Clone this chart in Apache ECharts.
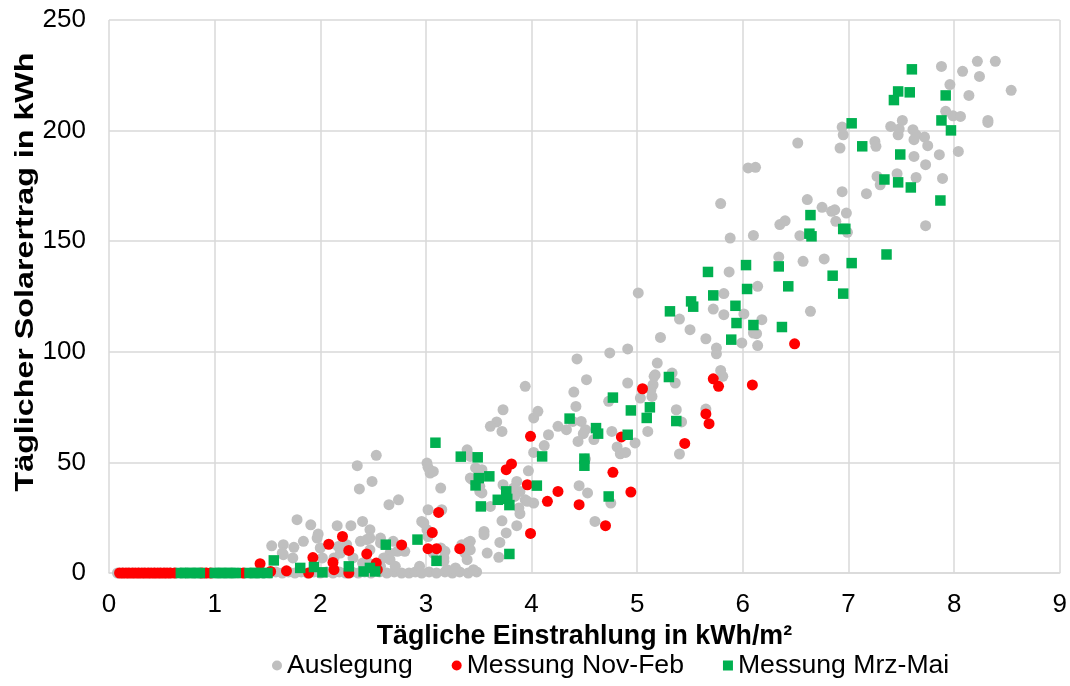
<!DOCTYPE html>
<html><head><meta charset="utf-8">
<script src="https://cdn.jsdelivr.net/npm/echarts@6/dist/echarts.min.js"></script>
<style>html,body{margin:0;padding:0;background:#fff}#c{width:1070px;height:686px}</style>
</head><body><div id="c"></div>
<script>
const xTicks = [0,1,2,3,4,5,6,7,8,9];
const yTicks = [0,50,100,150,200,250];
const seriesNames = ['Auslegung','Messung Nov-Feb','Messung Mrz-Mai'];
const xTitle = 'Tägliche Einstrahlung in kWh/m²';
const yTitle = 'Täglicher Solarertrag in kWh';

const auslegung = [
[0.08,0],[0.13,0],[0.18,0],[0.23,0],[0.28,0],[0.33,0],[0.38,0],[0.43,0],[0.48,0],[0.53,0],[0.58,0],[0.63,0],[0.68,0],[0.74,0],[0.8,0],[0.86,0],[0.92,0],[0.98,0],[1.04,0],[1.1,0],[1.16,0],[1.22,0],[1.28,0],[1.34,0],[1.4,0],[1.46,0],[1.52,0],[1.58,0.5],[1.64,0],[1.7,0.5],[1.76,0],[1.82,0.5],[1.88,0],[1.94,0.5],[2.0,0],[2.06,0.5],[2.12,0],[2.18,0.5],[2.24,0],[2.3,0.5],[2.36,0],[2.42,0.5],[2.48,0],[2.56,0.5],[2.63,0],[2.7,0.5],[2.77,0],[2.84,0],[2.9,0.5],[2.96,0],[3.03,0.5],[3.1,0],[3.18,0.5],[3.25,0],[3.32,0.5],[3.4,0],[3.48,0.5],
[1.54,12.3],[1.65,12.8],[1.75,11.6],[1.84,14.3],[1.65,8.3],[1.74,6.8],[1.64,9.0],[1.78,24.1],[1.91,21.8],[1.98,17.6],[1.97,15.8],[2.0,11.3],[2.02,6.8],[2.13,6.8],[2.16,21.4],[2.29,21.4],[2.40,23.3],[2.47,19.6],[2.47,15.8],[2.17,12.0],[2.25,12.8],[2.38,14.3],[2.44,15.1],[2.47,10.5],[2.57,13.6],[2.69,14.3],[2.73,9.8],[2.80,9.8],[2.66,9.0],[2.19,9.0],[2.31,6.8],[2.44,5.2],[2.57,3.0],[2.60,6.8],[2.66,6.0],[2.40,4.5],[2.71,3.0],[2.94,3.0],[2.35,48.5],[2.53,53.2],[2.37,38.0],[2.49,41.4],[2.65,30.9],[2.74,33.1],[2.57,15.8],[2.96,23.3],[3.02,28.6],[3.02,16.5],[3.01,49.7],[3.02,47.8],[3.04,45.2],[3.07,45.9],[3.14,38.4],[3.15,28.6],[2.98,22.6],[3.01,19.6],[3.14,11.3],[3.17,6.8],[3.07,9.0],[3.34,12.8],[3.42,14.3],[3.37,9.0],[3.18,9.8],[3.17,5.3],[3.20,1.5],[3.28,2.3],[3.39,6.0],[3.45,1.5],[3.40,13.8],[3.42,10.5],
[3.39,55.7],[3.42,52.7],[3.47,47.5],[3.53,46.7],[3.44,42.2],[3.42,42.9],[3.53,36.2],[3.51,39.2],[3.51,36.9],[3.86,41.4],[3.89,36.9],[3.83,38.4],[3.94,33.1],[4.02,31.6],[3.88,29.4],[3.89,26.8],[3.97,46.2],[3.72,23.6],[3.76,18.1],[3.86,21.4],[3.55,18.8],[3.55,17.3],[3.70,13.8],[3.58,9.0],[3.69,7.1],[3.73,73.8],[3.67,68.3],[3.61,66.3],[3.72,64.0],[3.94,84.4],[4.02,70.1],[4.06,73.1],[4.16,62.5],[4.12,57.6],[4.02,54.5],[3.61,30.1],[3.73,39.9],[3.84,34.6],[3.96,32.4],
[4.40,81.8],[4.52,87.4],[4.43,96.8],[4.74,99.5],[4.91,101.3],[4.25,66.3],[4.33,64.8],[4.42,75.3],[4.39,68.5],[4.47,68.5],[4.51,64.8],[4.49,63.0],[4.44,59.5],[4.59,60.3],[4.51,51.5],[4.76,64.0],[4.81,57.0],[4.84,53.9],[4.89,54.5],[4.98,58.8],[4.73,77.6],[4.91,85.9],[4.45,39.5],[4.53,36.2],[4.60,23.3],[4.75,31.6],
[5.03,79.1],[5.14,79.8],[5.15,85.1],[5.17,89.6],[5.19,94.9],[5.16,88.9],[5.13,82.9],[5.10,64.0],[5.37,73.8],[5.42,68.3],[5.40,53.8],[5.33,90.4],[5.36,85.9],[5.79,91.6],[5.81,88.9],[5.65,74.1],[5.01,126.6],[5.22,106.5],[5.40,114.8],[5.50,110.0],[5.65,105.9],[5.75,101.7],[5.75,99.1],[5.72,119.3],[5.82,116.8],[5.82,126.3],[5.87,136.1],[5.88,151.4],[5.79,167.0],
[6.01,117.1],[6.18,114.5],[6.10,108.5],[6.13,108.2],[6.14,102.8],[5.99,104.0],[6.14,129.6],[6.05,183.1],[6.12,183.4],[6.10,152.6],[6.35,157.5],[6.40,159.2],[6.34,142.9],[6.57,140.9],[6.77,142.0],[6.54,152.5],[6.64,118.3],[6.52,194.4],[6.61,168.8],[6.75,165.3],[6.84,163.5],[6.87,164.2],[6.88,159.0],[6.98,162.7],[6.94,172.4],[6.99,154.0],[6.94,201.6],[6.95,198.1],[6.92,192.1],
[7.17,171.5],[7.25,195.1],[7.26,192.9],[7.27,179.3],[7.30,175.5],[7.40,201.9],[7.51,204.6],[7.47,198.1],[7.48,200.7],[7.61,200.4],[7.64,198.1],[7.72,197.1],[7.75,193.2],[7.62,195.9],[7.62,188.3],[7.73,184.6],[7.86,189.1],[7.89,178.4],[7.64,178.8],[7.46,180.5],[7.73,157.0],[7.88,229.0],[8.08,226.8],[8.22,231.3],[8.39,231.3],[8.24,224.5],[7.96,220.8],[8.14,215.9],[8.54,218.2],[7.92,208.7],[7.99,206.7],[8.06,206.4],[8.32,204.6],[8.32,203.7],[8.04,190.6]
];

const messungNovFeb = [
[0.10,0],[0.13,0],[0.16,0],[0.19,0],[0.22,0],[0.25,0],[0.28,0],[0.31,0],[0.34,0],[0.37,0],[0.40,0],[0.43,0],[0.46,0],[0.49,0],[0.52,0],[0.55,0],[0.58,0],[0.62,0],[0.88,0],[0.92,0],[0.96,0],[1.27,0],
[1.43,4.2],[1.53,0.7],[1.68,1.0],[1.89,0],[1.93,7.0],[2.08,13.0],[2.12,4.8],[2.13,1.5],[2.21,16.5],[2.27,10.2],[2.27,0],[2.44,8.6],[2.53,4.5],[2.54,1.5],[2.77,12.7],[3.02,11.0],[3.06,18.3],[3.10,11.0],[3.12,27.4],[3.32,11.0],
[3.76,46.7],[3.81,49.3],[3.96,39.9],[3.99,61.8],[3.99,17.9],[4.15,32.4],[4.25,36.9],[4.45,30.9],[4.70,21.4],[4.77,45.5],[4.85,61.5],[4.94,36.6],[5.05,83.3],[5.45,58.6],[5.65,71.9],[5.68,67.5],[5.72,87.8],[5.77,84.4],[6.09,85.0],[6.49,103.6]
];

const messungMrzMai = [
[0.68,0],[0.72,0],[0.77,0],[0.82,0],[0.86,0],[1.0,0],[1.05,0],[1.1,0],[1.15,0],[1.2,0],[1.33,0],[1.38,0],[1.43,0],[1.5,0],
[1.56,5.7],[1.81,2.3],[1.94,2.7],[2.02,0.3],[2.27,3.0],[2.41,0.7],[2.47,2.3],[2.52,0.7],[2.62,12.8],[2.92,15.1],[3.10,5.5],
[3.09,58.9],[3.33,52.6],[3.49,52.3],[3.50,42.9],[3.60,43.7],[3.47,39.6],[3.52,30.1],[3.68,33.1],[3.76,36.9],[3.77,33.5],[3.79,30.7],[3.79,8.6],
[4.05,39.5],[4.10,52.7],[4.36,69.8],[4.50,51.7],[4.50,48.5],[4.61,65.5],[4.63,63.0],[4.73,34.6],[4.77,79.3],[4.91,62.5],[4.94,73.5],[5.09,70.1],[5.12,74.9],[5.30,88.6],[5.37,68.7],
[5.31,118.3],[5.51,122.8],[5.53,120.4],[5.67,136.1],[5.72,125.5],[5.89,105.5],[5.93,120.8],[5.94,113.0],[6.03,139.2],[6.04,128.4],[6.10,112.1],[6.34,138.6],[6.37,111.2],[6.43,129.6],
[6.63,153.4],[6.65,152.2],[6.64,161.8],[6.85,134.4],[6.95,126.3],[6.95,155.5],[6.97,155.6],[7.03,140.1],[7.03,203.3],[7.13,192.9],[7.34,177.9],[7.36,144.0],[7.43,213.8],[7.47,217.7],[7.47,176.6],[7.49,189.2],[7.58,217.3],[7.59,174.3],[7.60,227.7],[7.87,168.4],[7.88,204.6],[7.92,215.9],[7.97,200.1]
];

const FONT = '"Liberation Sans", Arial, sans-serif';
const chart = echarts.init(document.getElementById('c'), null, {renderer:'canvas'});
chart.setOption({
  animation: false,
  backgroundColor: '#fff',
  grid: {left: 109, right: 10, top: 20, bottom: 113, containLabel: false},
  graphic: [{
    type: 'text',
    x: 26, y: 272, rotation: Math.PI / 2, scaleX: 1.24, silent: true,
    style: {text: yTitle, font: 'bold 26px ' + FONT, fill: '#000', textAlign: 'center', textVerticalAlign: 'middle'}
  }],
  xAxis: {
    type: 'value', min: xTicks[0], max: xTicks[xTicks.length-1], interval: 1,
    name: xTitle, nameLocation: 'middle', nameGap: 49,
    nameTextStyle: {fontFamily: FONT, fontSize: 26.8, fontWeight: 'bold', color: '#000'},
    axisLine: {show: true, lineStyle: {color: '#D9D9D9', width: 1.5}},
    axisTick: {show: false},
    axisLabel: {fontFamily: FONT, fontSize: 26, color: '#000', margin: 19},
    splitLine: {show: true, lineStyle: {color: '#D9D9D9', width: 1.5}}
  },
  yAxis: {
    type: 'value', min: yTicks[0], max: yTicks[yTicks.length-1], interval: 50,
    axisLine: {show: false},
    axisTick: {show: false},
    axisLabel: {fontFamily: FONT, fontSize: 26, color: '#000', margin: 23},
    splitLine: {show: true, lineStyle: {color: '#D9D9D9', width: 1.5}}
  },
  legend: {
    left: 267, bottom: 2, itemGap: 39, itemWidth: 10, itemHeight: 10,
    textStyle: {fontFamily: FONT, fontSize: 26.6, color: '#000'},
    data: [
      {name: seriesNames[0], icon: 'circle'},
      {name: seriesNames[1], icon: 'circle'},
      {name: seriesNames[2], icon: 'rect'}
    ]
  },
  series: [
    {name: seriesNames[0], type: 'scatter', data: auslegung, symbol: 'circle', symbolSize: 11, itemStyle: {color: '#BFBFBF', opacity: 1}, z: 2},
    {name: seriesNames[1], type: 'scatter', data: messungNovFeb, symbol: 'circle', symbolSize: 11, itemStyle: {color: '#FF0000', opacity: 1}, z: 3},
    {name: seriesNames[2], type: 'scatter', data: messungMrzMai, symbol: 'rect', symbolSize: 10.5, itemStyle: {color: '#00B050', opacity: 1}, z: 4}
  ]
});
</script>
</body></html>
